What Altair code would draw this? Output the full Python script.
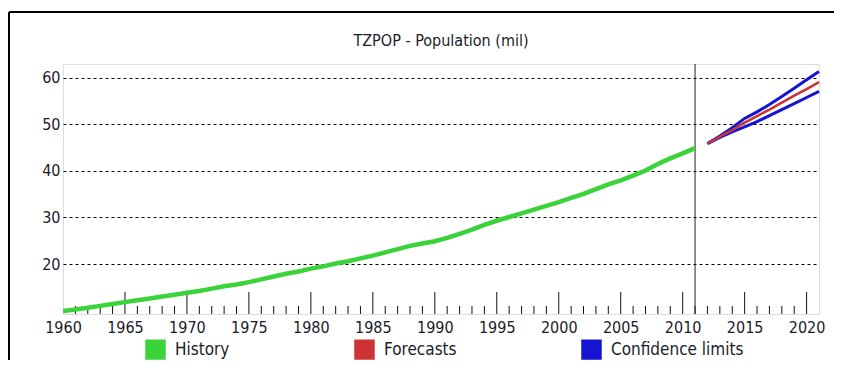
import altair as alt
import pandas as pd

FONT = "Liberation Sans Narrow, DejaVu Sans Condensed, Arial Narrow, sans-serif"
TXT = "#1c1c28"

# ---- data ----
hist_years = list(range(1960, 2012))
hist_values = [9.9, 10.2, 10.6, 11.0, 11.4, 11.8, 12.2, 12.6, 13.0, 13.4,
               13.8, 14.2, 14.7, 15.2, 15.6, 16.1, 16.7, 17.3, 17.9, 18.4,
               19.0, 19.5, 20.1, 20.6, 21.2, 21.8, 22.5, 23.2, 23.9, 24.4,
               24.9, 25.6, 26.5, 27.4, 28.4, 29.3, 30.1, 30.9, 31.7, 32.5,
               33.3, 34.2, 35.1, 36.1, 37.1, 38.0, 39.0, 40.1, 41.5, 42.7,
               43.8, 44.9]
fc_years = list(range(2012, 2022))
fc_values = [45.9, 47.4, 48.8, 50.4, 51.8, 53.2, 54.7, 56.2, 57.6, 59.1]
upper_values = [45.9, 47.5, 49.3, 51.3, 52.7, 54.3, 56.0, 57.8, 59.6, 61.4]
lower_values = [45.9, 47.2, 48.4, 49.5, 50.6, 51.9, 53.2, 54.5, 55.8, 57.1]

series_names = ["History", "Forecasts", "Confidence limits"]
series_colors = ["#3ad33a", "#cc3333", "#1414d2"]

title_text = "TZPOP - Population (mil)"
y_ticks = [20, 30, 40, 50, 60]
x_label_years = list(range(1960, 2021, 5))
all_years = list(range(1961, 2021))
split_year = 2011

W, H = 756, 250

hist = pd.DataFrame({"year": hist_years, "value": hist_values,
                     "series": "History", "line": "History"})
fc = pd.DataFrame({"year": fc_years, "value": fc_values,
                   "series": "Forecasts", "line": "Forecasts"})
up = pd.DataFrame({"year": fc_years, "value": upper_values,
                   "series": "Confidence limits", "line": "Upper"})
lo = pd.DataFrame({"year": fc_years, "value": lower_values,
                   "series": "Confidence limits", "line": "Lower"})
conf = pd.concat([up, lo], ignore_index=True)

xscale = alt.Scale(domain=[1960, 2021], nice=False, zero=False)
yscale = alt.Scale(domain=[9.25, 63.0], nice=False, zero=False)
cscale = alt.Scale(domain=series_names, range=series_colors)

x_enc = alt.X("year:Q", scale=xscale, title=None,
              axis=alt.Axis(values=x_label_years, format="d", grid=False,
                            ticks=False, domain=False, labelFont=FONT,
                            labelFontSize=16, labelColor=TXT, labelPadding=5,
                            labelFlush=False, labelOverlap=False))
y_enc = alt.Y("value:Q", scale=yscale, title=None,
              axis=alt.Axis(values=y_ticks, grid=True, gridColor="#000000",
                            gridDash=[3, 3], gridWidth=1, ticks=False,
                            domain=False, labelFont=FONT, labelFontSize=16,
                            labelColor=TXT, labelPadding=3))

legend = alt.Legend(title=None, orient="none", legendX=82, legendY=275,
                    direction="horizontal", symbolType="square",
                    symbolSize=110, symbolStrokeWidth=10, labelFont=FONT,
                    labelFontSize=17, labelColor=TXT, labelOffset=9,
                    columnPadding=109)

hist_line = alt.Chart(hist).mark_line(strokeWidth=4.5).encode(
    x=x_enc, y=y_enc,
    color=alt.Color("series:N", scale=cscale, legend=legend))
conf_line = alt.Chart(conf).mark_line(strokeWidth=3).encode(
    x="year:Q", y="value:Q",
    color=alt.Color("series:N", scale=cscale), detail="line:N")
fc_line = alt.Chart(fc).mark_line(strokeWidth=2.5).encode(
    x="year:Q", y="value:Q",
    color=alt.Color("series:N", scale=cscale))

ticks_df = pd.DataFrame({"year": all_years})
ticks_df["major"] = ticks_df["year"] % 5 == 0
minor_ticks = alt.Chart(ticks_df).transform_filter("!datum.major").mark_rule(
    color="#111", strokeWidth=1).encode(
    x="year:Q", y=alt.value(H), y2=alt.value(H - 8))
major_ticks = alt.Chart(ticks_df).transform_filter("datum.major").mark_rule(
    color="#111", strokeWidth=1).encode(
    x="year:Q", y=alt.value(H), y2=alt.value(H - 22))

split_rule = alt.Chart(pd.DataFrame({"year": [split_year]})).mark_rule(
    color="#222", strokeWidth=1).encode(x="year:Q")

title = alt.Chart(pd.DataFrame({"t": [title_text]})).mark_text(
    font=FONT, fontSize=16, color=TXT, align="center", baseline="middle").encode(
    x=alt.value(W / 2), y=alt.value(-23), text="t:N")

frame_top = alt.Chart(pd.DataFrame({"a": [0]})).mark_rule(
    color="#000", strokeWidth=2, clip=False).encode(
    x=alt.value(-54), x2=alt.value(W + 16), y=alt.value(-52))
frame_left = alt.Chart(pd.DataFrame({"a": [0]})).mark_rule(
    color="#000", strokeWidth=2, clip=False).encode(
    x=alt.value(-54), y=alt.value(-52), y2=alt.value(H + 48))

chart = alt.layer(
    minor_ticks, major_ticks, split_rule, hist_line, conf_line, fc_line,
    title, frame_top, frame_left
).properties(
    width=W, height=H,
    autosize=alt.AutoSizeParams(type="none"),
    padding={"left": 55, "top": 56, "right": 15, "bottom": 46},
).configure_view(
    stroke="#111", strokeWidth=1.5
).configure(background="white")

chart.save("out.html", embed_options={"renderer": "svg", "actions": False})
